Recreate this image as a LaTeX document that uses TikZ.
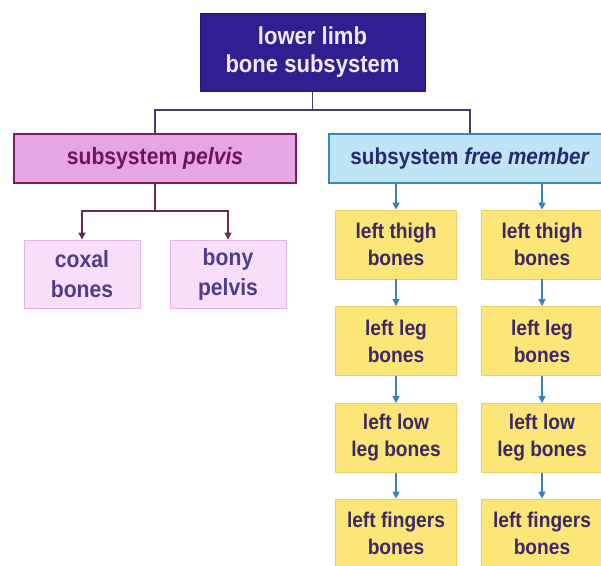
\documentclass[tikz,border=0pt]{standalone}
\usepackage{fontspec}
\usetikzlibrary{arrows.meta}
\newfontfamily\cf[FakeStretch=0.9]{Liberation Sans}
\definecolor{topfill}{RGB}{50,30,145}
\definecolor{toptext}{RGB}{238,234,255}
\definecolor{topline}{RGB}{70,60,110}
\definecolor{pelfill}{RGB}{230,166,230}
\definecolor{pelline}{RGB}{120,30,100}
\definecolor{peltext}{RGB}{110,20,90}
\definecolor{pinkfill}{RGB}{248,222,248}
\definecolor{pinkline}{RGB}{225,180,225}
\definecolor{pinktext}{RGB}{80,60,140}
\definecolor{freefill}{RGB}{190,228,245}
\definecolor{freeline}{RGB}{50,140,190}
\definecolor{freetext}{RGB}{40,40,110}
\definecolor{yelfill}{RGB}{252,230,120}
\definecolor{yelline}{RGB}{240,205,100}
\definecolor{yeltext}{RGB}{60,40,100}
\definecolor{bluearrow}{RGB}{50,130,190}
\definecolor{pelarrow}{RGB}{110,40,80}
\tikzset{
  base/.style={rectangle, inner sep=0pt, align=center, font=\cf\bfseries},
  topbox/.style={base, fill=topfill, draw=topfill!80!black, line width=0.8pt, text=toptext,
    minimum width=225pt, minimum height=78pt, font=\cf\bfseries\fontsize{24.5}{28}\selectfont},
  pelbox/.style={base, fill=pelfill, draw=pelline, line width=1.2pt, text=peltext,
    minimum width=282pt, minimum height=49pt, font=\cf\bfseries\fontsize{23.5}{28}\selectfont},
  freebox/.style={base, fill=freefill, draw=freeline, line width=1.2pt, text=freetext,
    minimum width=282pt, minimum height=49pt, font=\cf\bfseries\fontsize{23}{28}\selectfont},
  pinkbox/.style={base, fill=pinkfill, draw=pinkline, line width=0.8pt, text=pinktext,
    minimum width=116pt, minimum height=68pt, font=\cf\bfseries\fontsize{23.5}{30}\selectfont},
  yelbox/.style={base, fill=yelfill, draw=yelline, line width=0.8pt, text=yeltext,
    minimum width=121pt, minimum height=69pt, font=\cf\bfseries\fontsize{21.3}{27}\selectfont},
  topconn/.style={draw=topline, line width=1.2pt},
  pelconn/.style={draw=pelarrow, line width=1.2pt},
  pelarr/.style={pelconn, -{Triangle[length=7pt,width=7pt]}},
  bluearr/.style={draw=bluearrow, line width=1.2pt, -{Triangle[length=7pt,width=7pt]}},
}
\begin{document}
\begin{tikzpicture}[x=1pt,y=-1pt]
\useasboundingbox (0,0) rectangle (601,565);
\clip (0,0) rectangle (601,565);
\fill[white] (0,0) rectangle (601,565);
% nodes
\node[topbox] (top) at (312.5,52) {lower limb\\bone subsystem};
\node[pelbox] (pel) at (155,158.5) {subsystem \textit{pelvis}};
\node[freebox] (free) at (470,158.5) {subsystem \textit{free member}};
\node[pinkbox] (coxal) at (82,274) {coxal\\bones};
\node[pinkbox] (bony) at (228,274) {bony\\pelvis};
\foreach \c/\x in {a/396,b/542}{
  \node[yelbox] (thigh\c) at (\x,244.5) {left thigh\\bones};
  \node[yelbox] (leg\c) at (\x,341) {left leg\\bones};
  \node[yelbox] (low\c) at (\x,438) {left low\\leg bones};
  \node[yelbox] (fing\c) at (\x,533.5) {left fingers\\bones};
}
% connectors from top
\coordinate (tj) at (312.5,110);
\draw[topconn] (top.south) -- (tj);
\draw[topconn] (pel.north) |- (tj) -| (free.north);
% pelvis connectors
\coordinate (pj) at (155,211);
\draw[pelconn] (pel.south) -- (pj);
\draw[pelarr] (pj) -| (coxal.north);
\draw[pelarr] (pj) -| (bony.north);
% free member connectors
\foreach \c in {a,b}{
  \draw[bluearr] (free.south -| thigh\c.north) -- (thigh\c.north);
  \draw[bluearr] (thigh\c.south) -- (leg\c.north);
  \draw[bluearr] (leg\c.south) -- (low\c.north);
  \draw[bluearr] (low\c.south) -- (fing\c.north);
}
\end{tikzpicture}
\end{document}
